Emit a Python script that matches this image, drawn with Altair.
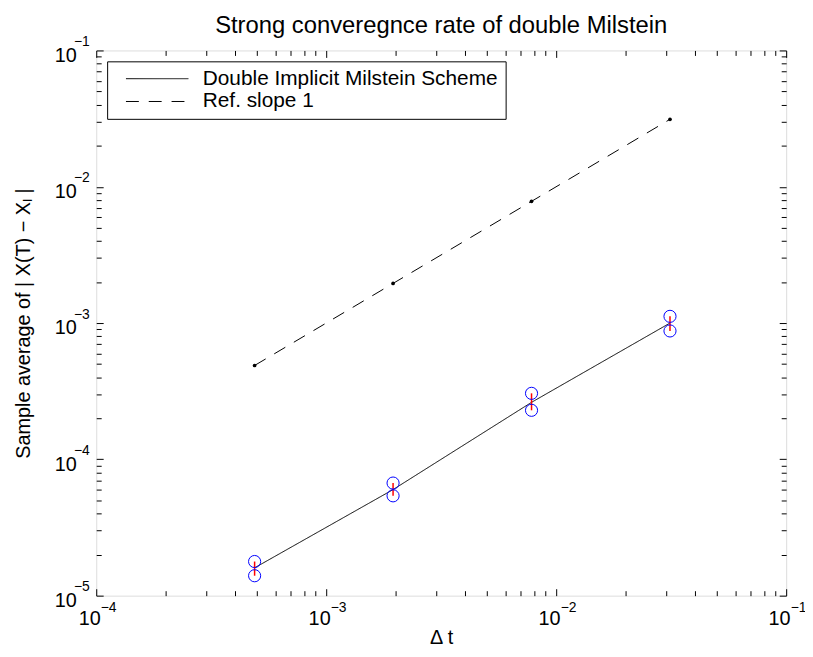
import altair as alt
import pandas as pd

# ---- data ----
dt = [0.00048828125, 0.001953125, 0.0078125, 0.03125]
err_mean = [1.6e-5, 6.0e-5, 2.62e-4, 1.0e-3]
err_upper = [1.78e-5, 6.7e-5, 3.05e-4, 1.12e-3]
err_lower = [1.40e-5, 5.4e-5, 2.29e-4, 8.75e-4]
ref_slope1 = [0.00048828125, 0.001953125, 0.0078125, 0.03125]

series_names = ["Double Implicit Milstein Scheme", "Ref. slope 1"]
x_major = [1e-4, 1e-3, 1e-2, 1e-1]
y_major = [1e-5, 1e-4, 1e-3, 1e-2, 1e-1]
x_minor = [m * d for d in [1e-4, 1e-3, 1e-2] for m in range(2, 10)]
y_minor = [m * d for d in [1e-5, 1e-4, 1e-3, 1e-2] for m in range(2, 10)]

lines_df = pd.DataFrame({
    "dt": dt + dt,
    "err": err_mean + ref_slope1,
    "series": [series_names[0]] * len(dt) + [series_names[1]] * len(dt),
})
ref_df = pd.DataFrame({"dt": dt, "err": ref_slope1})
ci_df = pd.DataFrame({"dt": dt, "lo": err_lower, "hi": err_upper})
circ_df = pd.DataFrame({"dt": dt + dt, "val": err_lower + err_upper})

FONT = "Liberation Sans"
LBL = 20
EXP = 14
xs = alt.Scale(type="log", domain=[1e-4, 1e-1], nice=False)
ys = alt.Scale(type="log", domain=[1e-5, 1e-1], nice=False)

exp_expr = "'−' + round(-log(datum.value)/LN10)"

common = dict(domain=False, grid=False, labelFont=FONT, labelColor="black",
              labelFlush=False, labelOverlap=False)

x_base = alt.Axis(orient="bottom", values=x_major, labelExpr="'10'", ticks=False,
                  labelFontSize=LBL, labelAlign="right", labelBaseline="top",
                  labelOffset=4, labelPadding=13,
                  title="Δ t", titleFont=FONT, titleFontSize=LBL, titleFontWeight="normal",
                  titleColor="black", titleBaseline="alphabetic", titlePadding=15, **common)
x_exp = alt.Axis(orient="bottom", values=x_major, labelExpr=exp_expr, ticks=False,
                 labelFontSize=EXP, labelAlign="left", labelBaseline="top",
                 labelOffset=4, labelPadding=5, title=None, **common)
y_base = alt.Axis(orient="left", values=y_major, labelExpr="'10'", ticks=False,
                  labelFontSize=LBL, labelAlign="right", labelBaseline="middle",
                  labelOffset=5, labelPadding=20,
                  title="Sample average of | X(T) − Xₗ |", titleFont=FONT,
                  titleFontSize=LBL, titleFontWeight="normal", titleColor="black",
                  titlePadding=21, **common)
y_exp = alt.Axis(orient="left", values=y_major, labelExpr=exp_expr, ticks=False,
                 labelFontSize=EXP, labelAlign="right", labelBaseline="middle",
                 labelOffset=-9, labelPadding=7, title=None, **common)


def tick_axis(orient, vals, size):
    return alt.Axis(orient=orient, values=vals, labels=False, domain=False, grid=False,
                    ticks=True, tickSize=size, offset=-size, tickColor="black",
                    tickWidth=1, title=None)


dash_scale = alt.Scale(domain=series_names, range=[[1, 0], [13, 10]])

legend = alt.Legend(
    orient="top-left", offset=11, title=None, symbolType="M0,0H12.6", symbolSize=100,
    symbolStrokeWidth=1, symbolStrokeColor="black", labelFont=FONT, labelFontSize=21,
    labelColor="black", strokeColor="black", fillColor="white", padding=7,
    symbolOffset=1.5, labelOffset=67, rowPadding=1, labelLimit=600,
)

lines = alt.Chart(lines_df).mark_line(color="black", strokeWidth=1).encode(
    x=alt.X("dt:Q", scale=xs, axis=x_base),
    y=alt.Y("err:Q", scale=ys, axis=y_base),
    strokeDash=alt.StrokeDash("series:N", scale=dash_scale, legend=legend),
)

exp_layer = alt.Chart(ref_df).mark_point(opacity=0).encode(
    x=alt.X("dt:Q", scale=xs, axis=x_exp),
    y=alt.Y("err:Q", scale=ys, axis=y_exp),
)

bars = alt.Chart(ci_df).mark_rule(color="#ff0000", strokeWidth=1.5).encode(
    x=alt.X("dt:Q", scale=xs, axis=tick_axis("bottom", x_major, 7)),
    y=alt.Y("lo:Q", scale=ys, axis=tick_axis("left", y_major, 7)),
    y2="hi:Q",
)

circles = alt.Chart(circ_df).mark_point(shape="circle", filled=False, color="#0000ff",
                                        size=150, strokeWidth=1, opacity=1).encode(
    x=alt.X("dt:Q", scale=xs, axis=tick_axis("bottom", x_minor, 5)),
    y=alt.Y("val:Q", scale=ys, axis=tick_axis("left", y_minor, 5)),
)

ref_pts = alt.Chart(ref_df).mark_point(filled=True, color="black", size=14, opacity=1).encode(
    x=alt.X("dt:Q", scale=xs, axis=tick_axis("top", x_major, 7)),
    y=alt.Y("err:Q", scale=ys, axis=tick_axis("right", y_major, 7)),
)

dummy = alt.Chart(ref_df).mark_point(opacity=0).encode(
    x=alt.X("dt:Q", scale=xs, axis=tick_axis("top", x_minor, 5)),
    y=alt.Y("err:Q", scale=ys, axis=tick_axis("right", y_minor, 5)),
)

chart = alt.layer(lines, exp_layer, bars, circles, ref_pts, dummy).resolve_axis(
    x="independent", y="independent"
).properties(
    width=696, height=550,
    title=alt.TitleParams("Strong converegnce rate of double Milstein", font=FONT,
                          fontSize=24, fontWeight="normal", color="black",
                          anchor="middle", offset=-3),
    autosize=alt.AutoSizeParams(type="none"),
    padding={"left": 89, "top": 40, "right": 19, "bottom": 51},
).configure_view(stroke="black", strokeWidth=1).configure(background="white")

chart.save("out.html", embed_options={"renderer": "svg", "actions": False})
